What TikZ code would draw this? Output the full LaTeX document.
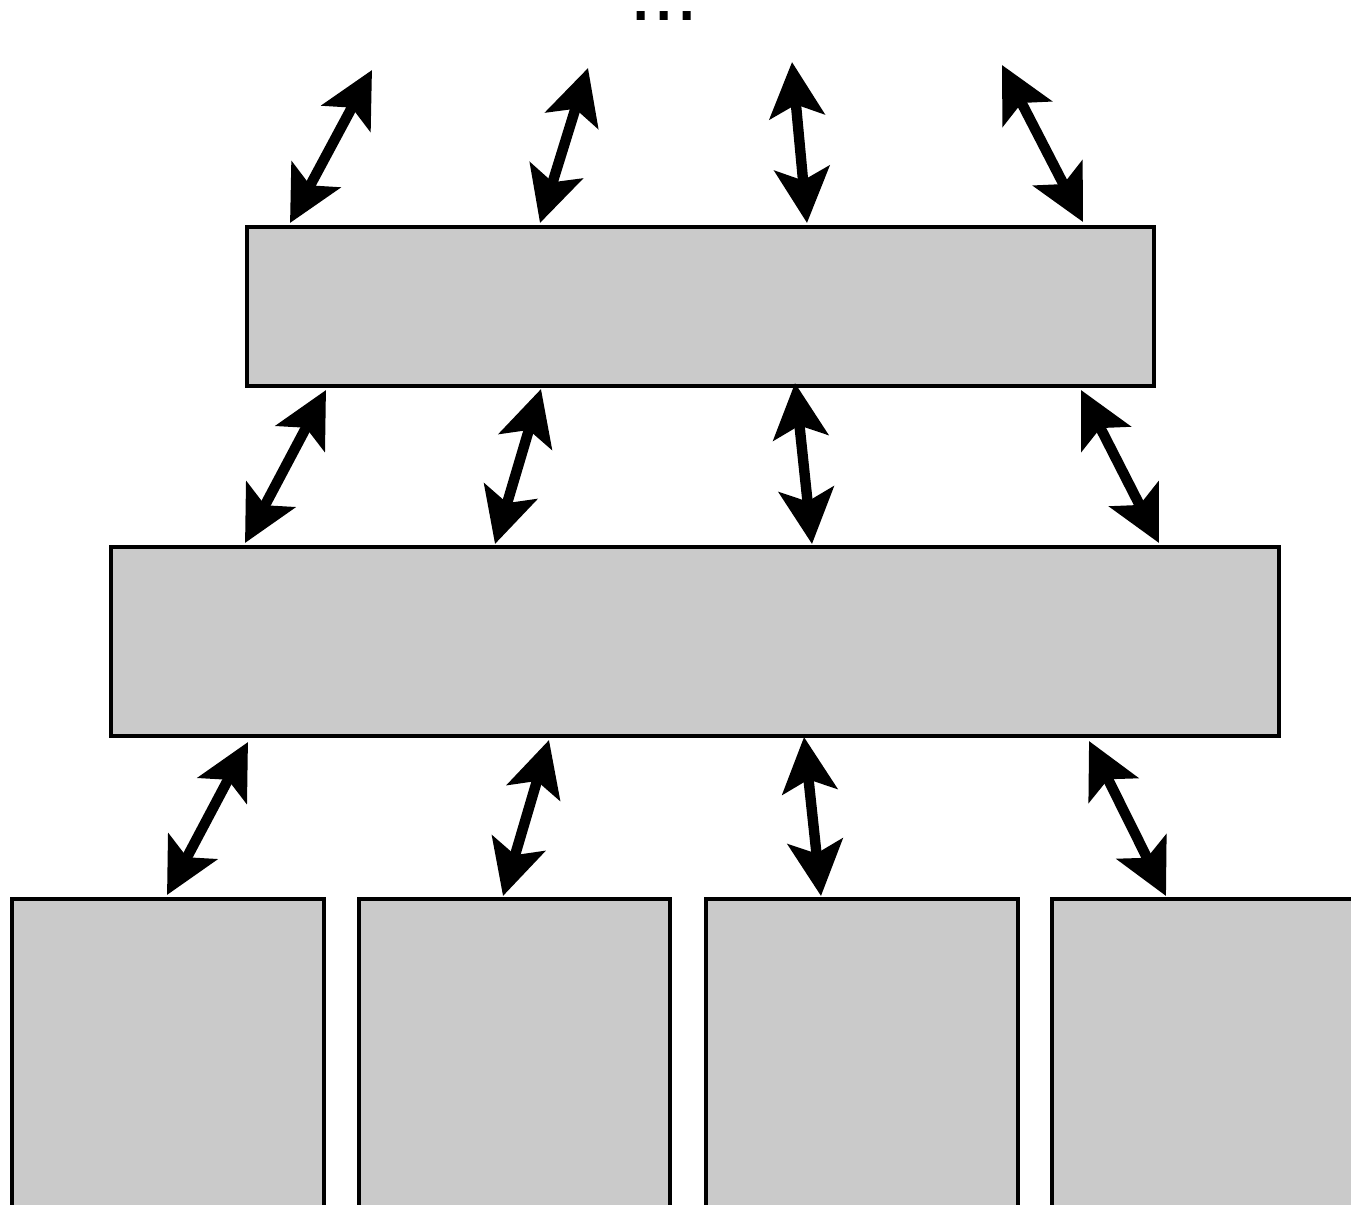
\documentclass[tikz,border=0pt]{standalone}
\usepackage{fontspec}
\setmainfont{Liberation Sans}
\usetikzlibrary{arrows.meta}
\begin{document}
\begin{tikzpicture}[x=0.75pt,y=-0.75pt,
  blk/.style={draw=black,line width=3pt,fill=boxgray},
  link/.style={line width=7.8pt,{Stealth[length=41pt,width=41pt,inset=9pt]}-{Stealth[length=41pt,width=41pt,inset=9pt]}},
]
\definecolor{boxgray}{HTML}{CACACA}
\useasboundingbox (0,0) rectangle (1351,1204);
\clip (0,0) rectangle (1351,1204);
% boxes
\draw[blk] (247,227) rectangle (1154,386) coordinate[pos=.5] (top);
\draw[blk] (111,547) rectangle (1279,736) coordinate[pos=.5] (mid);
\draw[blk] (12,899) rectangle (324,1230) coordinate[pos=.5] (b1);
\draw[blk] (359,899) rectangle (670,1230) coordinate[pos=.5] (b2);
\draw[blk] (706,899) rectangle (1018,1230) coordinate[pos=.5] (b3);
\draw[blk] (1052,899) rectangle (1380,1230) coordinate[pos=.5] (b4);
% dots
\node[anchor=base,inner sep=0pt,text height=0.12em,text depth=0pt,font=\fontsize{63}{63}\selectfont] (dots) at (664,20.5) {...};
% arrow end points
\coordinate (t1u) at (372,70);   \coordinate (t1d) at (290,223);
\coordinate (t2u) at (588,68);   \coordinate (t2d) at (540,223);
\coordinate (t3u) at (792,62);   \coordinate (t3d) at (807,223);
\coordinate (t4u) at (1002,65);  \coordinate (t4d) at (1083,222);
\coordinate (m1u) at (326,390);  \coordinate (m1d) at (245,543);
\coordinate (m2u) at (541,389);  \coordinate (m2d) at (495,544);
\coordinate (m3u) at (795,383);  \coordinate (m3d) at (812,544);
\coordinate (m4u) at (1081,390); \coordinate (m4d) at (1159,543);
\coordinate (l1u) at (248,742);  \coordinate (l1d) at (167,895);
\coordinate (l2u) at (549,740);  \coordinate (l2d) at (503,896);
\coordinate (l3u) at (804,737);  \coordinate (l3d) at (821,896);
\coordinate (l4u) at (1089,741); \coordinate (l4d) at (1166,896);
\foreach \r in {t,m,l}{
  \foreach \i in {1,2,3,4}{
    \draw[link] (\r\i u) -- (\r\i d);
  }
}
\end{tikzpicture}
\end{document}
